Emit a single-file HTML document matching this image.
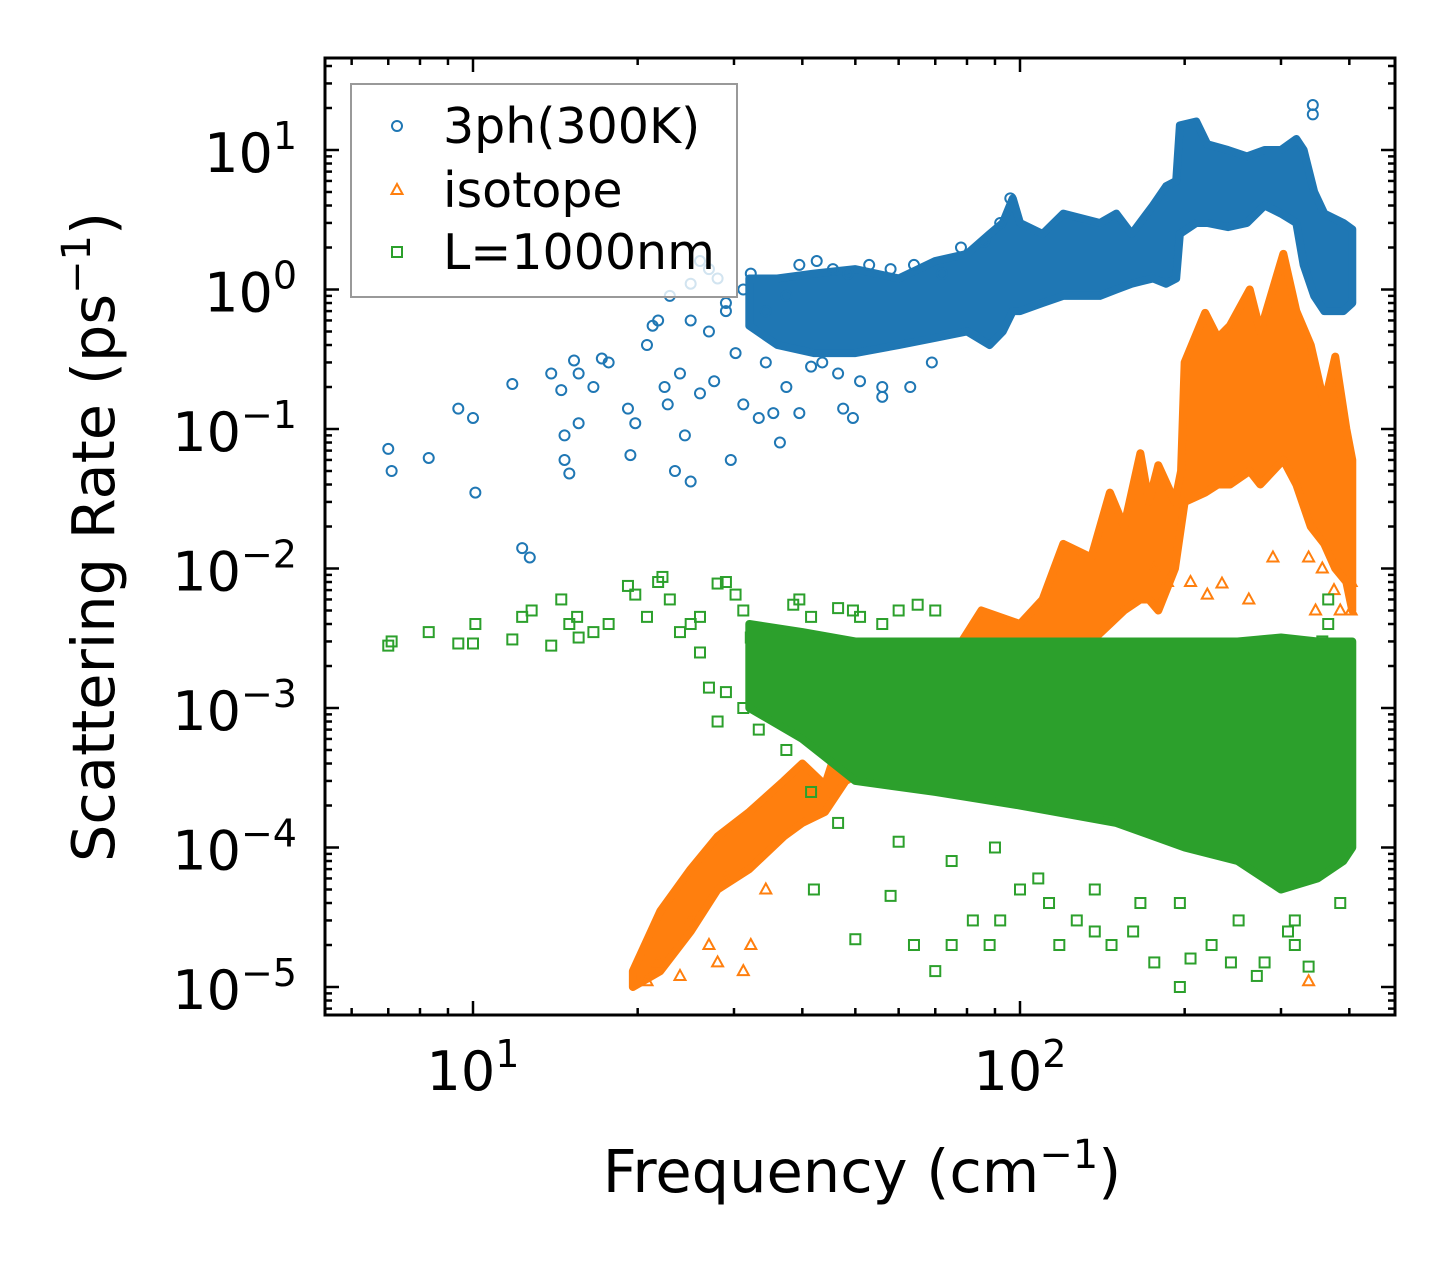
<!DOCTYPE html>
<html><head><meta charset="utf-8"><style>
html,body{margin:0;padding:0;background:#fff;}
svg{display:block;font-family:"DejaVu Sans","Liberation Sans",sans-serif;}
</style></head><body>
<svg id="chart" width="1455" height="1265" viewBox="0 0 1455 1265">
<rect x="0" y="0" width="1455" height="1265" fill="#fff"/>
<clipPath id="clip"><rect x="325" y="58" width="1070" height="957"/></clipPath>
<g id="plot" clip-path="url(#clip)"></g>
<g id="axes"></g>
</svg>
<script>
// ---- data ----
const phBandFreq = [32,36,42,50,60,70,80,88,93,97,100,110,120,140,150,160,175,185,193,196,210,220,240,260,280,300,320,330,345,360,390,405];
const phBandLow  = [0.55,0.4,0.35,0.35,0.4,0.45,0.5,0.4,0.5,0.7,0.7,0.8,0.9,0.9,1.0,1.1,1.2,1.1,1.2,2.5,3,3,2.8,3,4,3.5,3,1.5,0.9,0.7,0.7,0.8];
const phBandHigh = [1.2,1.2,1.3,1.4,1.2,1.6,1.8,2.5,3,4.5,3,2.5,3.5,3,3.5,2.5,4,5.5,6,15,16,11,10,9,10,10,12,10,5,3.5,3,2.7];
const phFreq = [7.0,7.1,8.3,9.4,10.0,10.1,11.8,12.3,12.7,13.9,14.5,14.7,14.7,15.0,15.3,15.6,15.6,16.6,17.2,17.7,19.2,19.4,19.8,20.8,21.3,21.8,22.4,22.7,23.4,23.9,24.4,25,25,26,26,27,27.6,28,29,29.6,30.2,31.2,32.2,33.3,34.3,35.4,36.4,37.4,39.5,43.5,47.5,49.5,56,56,63,69,22.9,25,27,29,31.2,34.3,37.4,41.5,46.5,51,39.5,42.5,45.5,48.5,53,58,64,72,78,86,92,96,343,343];
const phRate = [0.072,0.05,0.062,0.14,0.12,0.035,0.21,0.014,0.012,0.25,0.19,0.09,0.06,0.048,0.31,0.25,0.11,0.2,0.32,0.3,0.14,0.065,0.11,0.4,0.55,0.6,0.2,0.15,0.05,0.25,0.09,0.042,0.6,0.18,1.6,0.5,0.22,1.2,0.7,0.06,0.35,0.15,1.3,0.12,0.3,0.13,0.08,0.2,0.13,0.3,0.14,0.12,0.17,0.2,0.2,0.3,0.9,1.1,1.4,0.8,1.0,0.7,0.9,0.28,0.25,0.22,1.5,1.6,1.4,1.3,1.5,1.4,1.5,1.3,2.0,2.2,3.0,4.5,18,21];
const isoBandFreq = [19.6,22,25,28,32,37,40,44,48,55,70,85,100,110,120,135,146,155,166,172,179,192,197,200,218,230,242,263,275,303,320,340,360,377,395,405];
const isoBandLow  = [1e-5,1.3e-5,2.5e-5,5e-5,7e-5,1.2e-4,1.5e-4,1.8e-4,3e-4,4e-4,3e-4,3e-4,5e-4,1e-3,2e-3,3e-3,4e-3,5e-3,6e-3,6e-3,5e-3,1e-2,2e-2,3e-2,3.5e-2,4e-2,4e-2,5e-2,4e-2,6e-2,4e-2,2e-2,1.5e-2,1e-2,8e-3,5e-3];
const isoBandHigh = [1.3e-5,3.5e-5,7e-5,1.2e-4,1.8e-4,3e-4,4e-4,2.8e-4,8e-4,1e-3,1.5e-3,5e-3,4e-3,6e-3,1.5e-2,1.2e-2,3.5e-2,2e-2,6.7e-2,3e-2,5.5e-2,3e-2,5e-2,0.3,0.68,0.45,0.55,1.0,0.5,1.8,0.7,0.4,0.15,0.33,0.1,0.06];
const isoFreq = [20.8,21.8,23.9,27,28,31.2,32.2,205,220,234,262,290,337,347,357,375,385,403,403,337,25,29,34.3,176,186];
const isoRate = [1.1e-5,1.5e-5,1.2e-5,2e-5,1.5e-5,1.3e-5,2e-5,0.008,0.0065,0.0078,0.006,0.012,0.012,0.005,0.01,0.007,0.005,0.008,0.005,1.1e-5,3e-5,6e-5,5e-5,0.01,0.008];
const lBandFreq = [32,40,50,70,100,150,200,250,300,350,390,405];
const lBandLow  = [1e-3,6e-4,3e-4,2.5e-4,2e-4,1.5e-4,1e-4,8e-5,5e-5,6e-5,8e-5,1e-4];
const lBandHigh = [4e-3,3.5e-3,3e-3,3e-3,3e-3,3e-3,3e-3,3e-3,3.2e-3,3e-3,3e-3,3e-3];
const lFreq = [7.0,7.1,8.3,9.4,10.0,10.1,11.8,12.3,12.8,13.9,14.5,15,15.5,15.6,16.6,17.7,19.2,19.8,20.8,21.8,22.2,22.9,23.9,25,26,26,27,28,29,30.2,31.2,32.2,34.3,36.4,38.5,39.5,41.5,46.5,49.5,51,56,60,65,70,42,50,58,64,70,75,82,88,92,100,113,118,127,137,147,161,176,196,205,224,243,271,280,309,318,337,366,366,357,28,29,31.2,33.3,37.4,41.5,46.5,60,75,90,108,137,166,196,251,318,385];
const lRate = [0.0028,0.003,0.0035,0.0029,0.0029,0.004,0.0031,0.0045,0.005,0.0028,0.006,0.004,0.0045,0.0032,0.0035,0.004,0.0075,0.0065,0.0045,0.008,0.0087,0.006,0.0035,0.004,0.0025,0.0045,0.0014,0.0078,0.008,0.0065,0.005,0.0032,0.002,0.003,0.0055,0.006,0.0045,0.0052,0.005,0.0045,0.004,0.005,0.0055,0.005,5e-5,2.2e-5,4.5e-5,2e-5,1.3e-5,2e-5,3e-5,2e-5,3e-5,5e-5,4e-5,2e-5,3e-5,2.5e-5,2e-5,2.5e-5,1.5e-5,1e-5,1.6e-5,2e-5,1.5e-5,1.2e-5,1.5e-5,2.5e-5,2e-5,1.4e-5,6e-3,4e-3,3e-3,8e-4,1.3e-3,1e-3,7e-4,5e-4,2.5e-4,1.5e-4,1.1e-4,8e-5,1e-4,6e-5,5e-5,4e-5,4e-5,3e-5,3e-5,4e-5];
const xTickExps = [1,2];
const yTickExps = [1,0,-1,-2,-3,-4,-5];

// ---- axes functions ----
const X0=325,X1=1395,Y0=58,Y1=1015;
const xDecade=547, x10=473;
const yDecade=139.5, y1e1=150;
function xs(f){return x10+(Math.log10(f)-1)*xDecade;}
function ys(v){return y1e1-(Math.log10(v)-1)*yDecade;}
const NS="http://www.w3.org/2000/svg";
function mk(tag,attrs,parent){const e=document.createElementNS(NS,tag);for(const k in attrs)e.setAttribute(k,attrs[k]);parent.appendChild(e);return e;}
const plot=document.getElementById('plot'), axes=document.getElementById('axes');
const C_BLUE="#1f77b4",C_OR="#ff7f0e",C_GR="#2ca02c";

function band(fr,lo,hi,color,name){
  let pts=[];
  for(let i=0;i<fr.length;i++)pts.push(xs(fr[i])+","+ys(hi[i]));
  for(let i=fr.length-1;i>=0;i--)pts.push(xs(fr[i])+","+ys(lo[i]));
  const p=mk('polygon',{points:pts.join(' '),fill:color,stroke:color,'stroke-width':8,'stroke-linejoin':'round'},plot);
  
  
}
function marker(kind,cx,cy,color,parent){
  let e;
  if(kind==='o'){e=mk('circle',{cx:cx,cy:cy,r:5,fill:'none',stroke:color,'stroke-width':2},parent);}
  else if(kind==='^'){e=mk('polygon',{points:`${cx},${cy-6} ${cx-5.5},${cy+4} ${cx+5.5},${cy+4}`,fill:'none',stroke:color,'stroke-width':2},parent);}
  else {e=mk('rect',{x:cx-5,y:cy-5,width:10,height:10,fill:'none',stroke:color,'stroke-width':2},parent);}
  return e;
}
function scatter(fr,rt,kind,color,name){
  const g=mk('g',{},plot);
  
  
  for(let i=0;i<fr.length;i++){
    const m=marker(kind,xs(fr[i]),ys(rt[i]),color,g);
    
    
  }
}
band(phBandFreq,phBandLow,phBandHigh,C_BLUE,'3ph-dense-cloud');
scatter(phFreq,phRate,'o',C_BLUE,'3ph-series');
band(isoBandFreq,isoBandLow,isoBandHigh,C_OR,'isotope-dense-cloud');
scatter(isoFreq,isoRate,'^',C_OR,'isotope-series');
band(lBandFreq,lBandLow,lBandHigh,C_GR,'boundary-dense-cloud');
scatter(lFreq,lRate,'s',C_GR,'boundary-series');

// frame
const fr=mk('rect',{x:X0,y:Y0,width:X1-X0,height:Y1-Y0,fill:'none',stroke:'#000','stroke-width':3},axes);


for(let d=0;d<=2;d++){
  for(let m=1;m<=9;m++){
    const f=m*Math.pow(10,d);const x=xs(f);
    if(x<X0||x>X1)continue;
    const L=m===1?14:7;
    mk('line',{x1:x,y1:Y1,x2:x,y2:Y1-L,stroke:'#000','stroke-width':2.5},axes);
    mk('line',{x1:x,y1:Y0,x2:x,y2:Y0+L,stroke:'#000','stroke-width':2.5},axes);
  }
}
for(let i=0;i<xTickExps.length;i++){
  const x=xs(Math.pow(10,xTickExps[i]));
  const t=mk('text',{x:x,y:1090,'font-size':54,'text-anchor':'middle',fill:'#000'},axes);
  
  
  t.innerHTML='10<tspan dy="-23" font-size="38">'+xTickExps[i]+'</tspan>';
}
for(let e=-6;e<=1;e++){
  for(let m=1;m<=9;m++){
    const y=ys(m*Math.pow(10,e));
    if(y<Y0||y>Y1)continue;
    const L=m===1?14:7;
    mk('line',{x1:X0,y1:y,x2:X0+L,y2:y,stroke:'#000','stroke-width':2.5},axes);
    mk('line',{x1:X1,y1:y,x2:X1-L,y2:y,stroke:'#000','stroke-width':2.5},axes);
  }
}
for(let i=0;i<yTickExps.length;i++){
  const e=yTickExps[i];const y=ys(Math.pow(10,e));
  const t=mk('text',{x:297,y:y+22,'font-size':54,'text-anchor':'end',fill:'#000'},axes);
  
  
  t.innerHTML='10<tspan dy="-23" font-size="38">'+(e<0?'\u2212'+(-e):e)+'</tspan>';
}
</script>
<script>
const svg=document.getElementById('chart');
function T(html,attrs,name){const t=document.createElementNS("http://www.w3.org/2000/svg",'text');for(const k in attrs)t.setAttribute(k,attrs[k]);t.innerHTML=html;


svg.appendChild(t);return t;}
T('Frequency (cm<tspan dy="-24" font-size="40">\u22121</tspan><tspan dy="24">)</tspan>',{x:862,y:1192,'font-size':59,'text-anchor':'middle'},'x-axis-title');
T('Scattering Rate (ps<tspan dy="-24" font-size="40">\u22121</tspan><tspan dy="24">)</tspan>',{x:0,y:0,'font-size':59,'text-anchor':'middle',transform:'translate(114,537) rotate(-90)'},'y-axis-title');
const NS2="http://www.w3.org/2000/svg";
const lg=document.createElementNS(NS2,'g');


svg.appendChild(lg);
const box=document.createElementNS(NS2,'rect');
box.setAttribute('x',351);box.setAttribute('y',84);box.setAttribute('width',386);box.setAttribute('height',213);
box.setAttribute('fill','rgba(255,255,255,0.8)');box.setAttribute('stroke','#999');box.setAttribute('stroke-width',2);


lg.appendChild(box);
const entries=[['3ph(300K)','o','#1f77b4',126],['isotope','^','#ff7f0e',190],['L=1000nm','s','#2ca02c',252]];
entries.forEach(en=>{
  const g=document.createElementNS(NS2,'g');
  
  
  lg.appendChild(g);
  marker(en[1],397,en[3],en[2],g);
  const t=document.createElementNS(NS2,'text');
  t.setAttribute('x',443);t.setAttribute('y',en[3]+17);t.setAttribute('font-size',49);
  t.textContent=en[0];
  
  
  g.appendChild(t);
});
</script>
</body></html>
